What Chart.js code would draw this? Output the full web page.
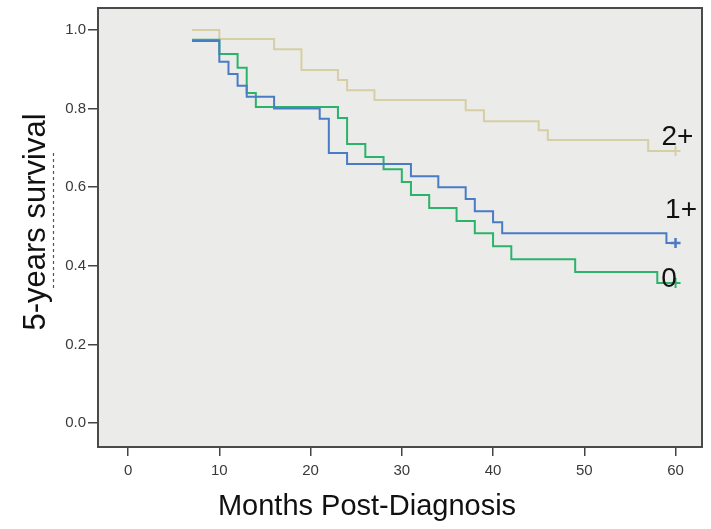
<!DOCTYPE html>
<html>
<head>
<meta charset="utf-8">
<script src="https://cdn.jsdelivr.net/npm/chart.js@4"></script>
<style>
  html, body { margin: 0; padding: 0; background: #ffffff; }
  #wrap { width: 711px; height: 529px; }
</style>
</head>
<body>
<div id="wrap"><canvas id="c" width="711" height="529"></canvas></div>
<script>
// ---- Data (Kaplan–Meier steps: time of change, survival after change) ----
const groupLabels = ["2+", "1+", "0"];

const timesG2 = [7, 10, 16, 19, 23, 24, 27, 37, 39, 45, 46, 57, 60];
const survG2  = [1.000, 0.977, 0.951, 0.898, 0.873, 0.847, 0.822, 0.796, 0.768, 0.745, 0.720, 0.692, 0.692];

const timesG1 = [7, 10, 11, 12, 13, 16, 21, 22, 24, 31, 34, 37, 38, 40, 41, 59, 60];
const survG1  = [0.972, 0.919, 0.888, 0.858, 0.830, 0.800, 0.774, 0.687, 0.659, 0.628, 0.600, 0.570, 0.539, 0.511, 0.483, 0.458, 0.458];

const timesG0 = [7, 10, 12, 13, 14, 23, 24, 26, 28, 30, 31, 33, 36, 38, 40, 42, 49, 58, 60];
const survG0  = [0.975, 0.939, 0.904, 0.840, 0.804, 0.776, 0.710, 0.677, 0.646, 0.613, 0.580, 0.547, 0.514, 0.483, 0.450, 0.417, 0.384, 0.356, 0.356];

const xTicks = [0, 10, 20, 30, 40, 50, 60];
const yTicks = [0.0, 0.2, 0.4, 0.6, 0.8, 1.0];

// label anchor positions (data coords)
const labelX = [60.2, 60.6, 59.3];
const labelY = [0.726, 0.541, 0.366];

const colors = ["#d6cfa3", "#4a7cc6", "#2cb36b"];

function pts(t, s) { return t.map((x, i) => ({ x: x, y: s[i] })); }
function censorRadius(n) { return Array.from({ length: n }, (_, i) => i === n - 1 ? 5 : 0); }

const frameBg = {
  id: "frameBg",
  beforeDraw(chart) {
    const { ctx, chartArea: a } = chart;
    ctx.save();
    ctx.fillStyle = "#ebebea";
    ctx.fillRect(a.left, a.top, a.right - a.left, a.bottom - a.top);
    ctx.restore();
  },
  afterDraw(chart) {
    const { ctx, chartArea: a, scales } = chart;
    ctx.save();
    ctx.strokeStyle = "#4a4a4a";
    ctx.lineWidth = 2;
    ctx.strokeRect(a.left, a.top, a.right - a.left, a.bottom - a.top);

    // group labels
    ctx.fillStyle = "#111";
    ctx.font = "28px 'Liberation Sans', Arial, sans-serif";
    ctx.textAlign = "center";
    ctx.textBaseline = "middle";
    groupLabels.forEach((l, i) => {
      ctx.fillText(l, scales.x.getPixelForValue(labelX[i]), scales.y.getPixelForValue(labelY[i]));
    });

    // axis titles
    ctx.font = "29px 'Liberation Sans', Arial, sans-serif";
    ctx.fillText("Months Post-Diagnosis", 367, 507);
    ctx.save();
    ctx.translate(36, 222);
    ctx.rotate(-Math.PI / 2);
    ctx.font = "31px 'Liberation Sans', Arial, sans-serif";
    ctx.fillText("5-years survival", 0, 0);
    ctx.restore();

    // faint dashed artifact beside the y title
    ctx.strokeStyle = "#555";
    ctx.lineWidth = 1.2;
    ctx.setLineDash([3, 3]);
    ctx.beginPath();
    ctx.moveTo(53.5, 153);
    ctx.lineTo(53.5, 290);
    ctx.stroke();
    ctx.restore();
  }
};

const tickFont = { family: "'Liberation Sans', Arial, sans-serif", size: 15 };

new Chart(document.getElementById("c"), {
  type: "scatter",
  data: {
    datasets: [
      { label: groupLabels[0], data: pts(timesG2, survG2), showLine: true, stepped: "before",
        borderColor: colors[0], backgroundColor: colors[0], borderWidth: 2,
        pointStyle: "cross", pointRadius: censorRadius(timesG2.length), pointBorderWidth: 2, order: 3 },
      { label: groupLabels[1], data: pts(timesG1, survG1), showLine: true, stepped: "before",
        borderColor: colors[1], backgroundColor: colors[1], borderWidth: 2,
        pointStyle: "cross", pointRadius: censorRadius(timesG1.length), pointBorderWidth: 2.5, order: 1 },
      { label: groupLabels[2], data: pts(timesG0, survG0), showLine: true, stepped: "before",
        borderColor: colors[2], backgroundColor: colors[2], borderWidth: 2,
        pointStyle: "cross", pointRadius: censorRadius(timesG0.length), pointBorderWidth: 2, order: 2 }
    ]
  },
  options: {
    responsive: false,
    animation: false,
    events: [],
    layout: { padding: { left: 0, right: 9, top: 8, bottom: 0 } },
    plugins: { legend: { display: false }, tooltip: { enabled: false } },
    scales: {
      x: {
        type: "linear", min: -3.3, max: 62.9,
        afterBuildTicks: (s) => { s.ticks = xTicks.map(v => ({ value: v })); },
        afterFit: (s) => { s.height = 82; s.paddingLeft = 0; s.paddingRight = 0; },
        grid: { drawOnChartArea: false, drawTicks: true, tickLength: 9, color: "#444", lineWidth: 1.5 },
        border: { display: false },
        ticks: { font: tickFont, color: "#3a3a3a", padding: 6, maxRotation: 0, callback: (v) => String(v) }
      },
      y: {
        type: "linear", min: -0.061, max: 1.056,
        afterBuildTicks: (s) => { s.ticks = yTicks.map(v => ({ value: v })); },
        afterFit: (s) => { s.width = 98; s.paddingTop = 0; s.paddingBottom = 0; },
        grid: { drawOnChartArea: false, drawTicks: true, tickLength: 10, color: "#444", lineWidth: 1.5 },
        border: { display: false },
        ticks: { font: tickFont, color: "#3a3a3a", padding: 2, callback: (v) => Number(v).toFixed(1) }
      }
    }
  },
  plugins: [frameBg]
});
</script>
</body>
</html>
